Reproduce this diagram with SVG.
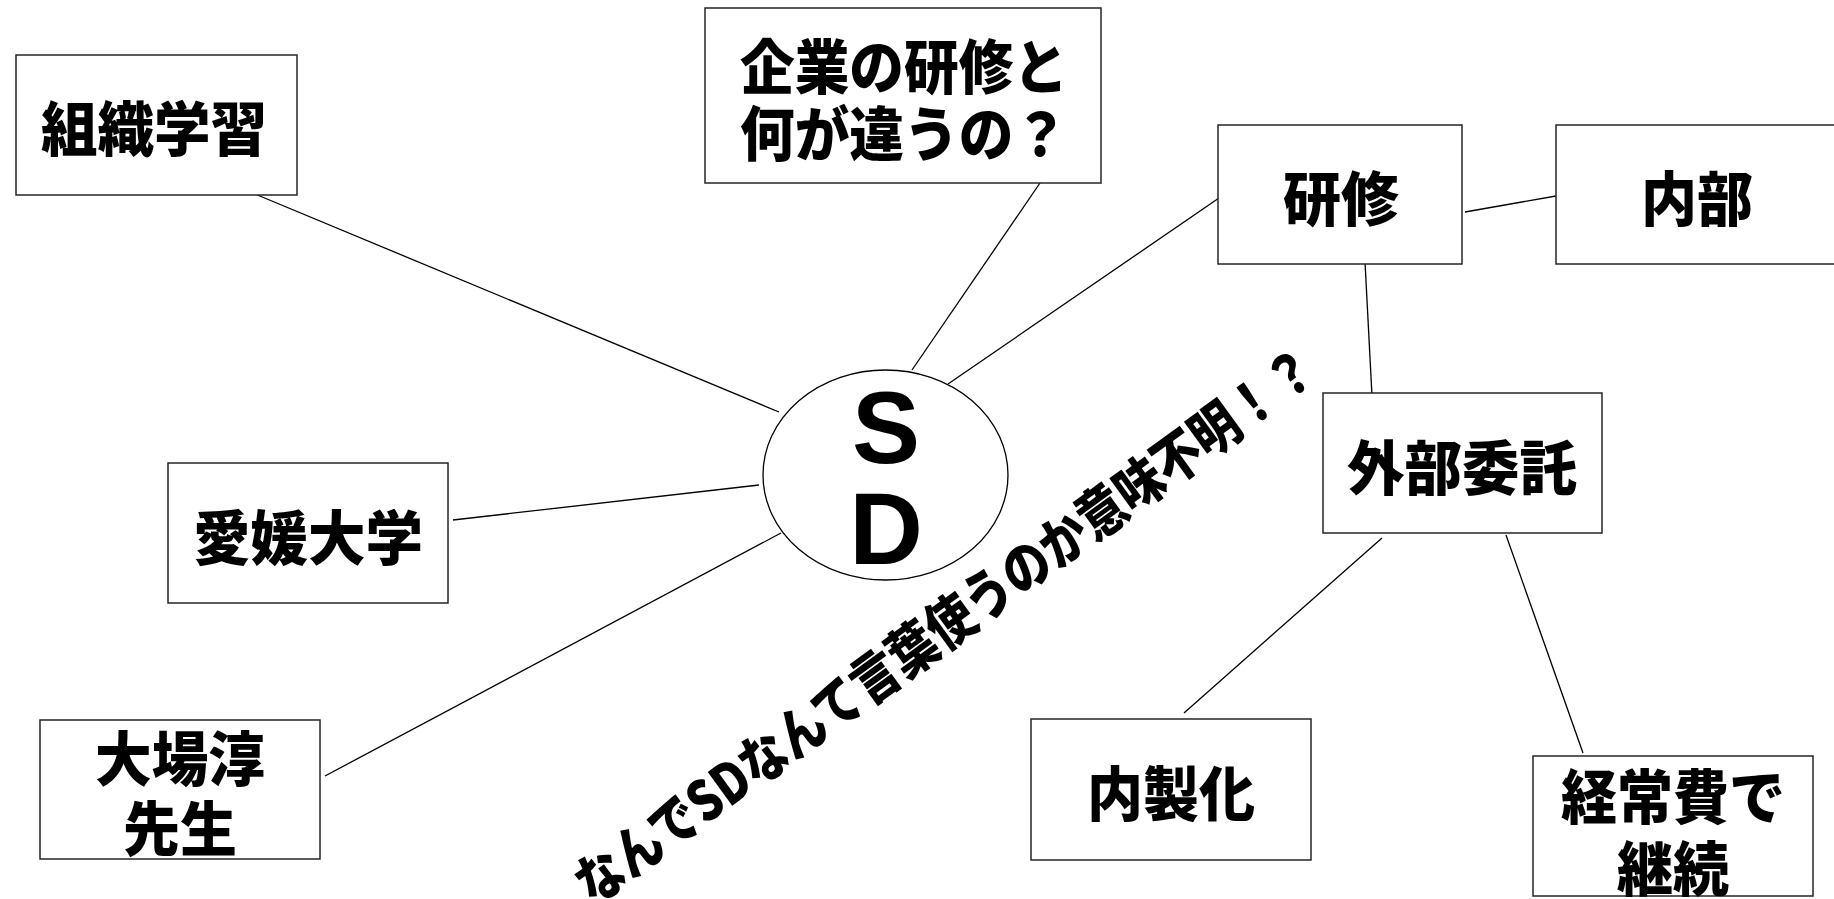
<svg xmlns="http://www.w3.org/2000/svg" width="1834" height="899" viewBox="0 0 1834 899">
<style>
.box{fill:#fff;stroke:#262626;stroke-width:1.5}
.lbl{font-family:"Noto Sans CJK JP","Noto Sans",sans-serif;font-weight:900;font-size:59px;fill:#000;text-anchor:middle}
.con line{stroke:#000;stroke-width:1.3}
.sd{font-family:"Liberation Sans",Arial,sans-serif;font-weight:bold;font-size:102px;fill:#000;text-anchor:middle}
</style>
<rect width="1834" height="899" fill="#fff"/>
<g id="connectors" class="con">
<line x1="255" y1="194" x2="779" y2="412"/>
<line x1="1040" y1="183" x2="912" y2="370"/>
<line x1="1219" y1="198" x2="948" y2="384"/>
<line x1="1465" y1="212" x2="1556" y2="196"/>
<line x1="1365" y1="262" x2="1372" y2="396"/>
<line x1="453" y1="520" x2="759" y2="485"/>
<line x1="325" y1="776" x2="781" y2="533"/>
<line x1="1382" y1="538" x2="1184" y2="713"/>
<line x1="1506" y1="535" x2="1583" y2="753"/>
</g>
<g id="sd">
<ellipse cx="885.5" cy="475" rx="122.5" ry="105" fill="#fff" stroke="#000" stroke-width="1.3"/>
<text class="sd" x="886" y="463">S</text>
<text class="sd" x="886" y="564">D</text>
</g>
<g id="soshiki">
<rect class="box" x="16" y="55" width="281" height="140"/>
<text class="lbl" x="154" y="151" textLength="226" lengthAdjust="spacingAndGlyphs">組織学習</text>
</g>
<g id="kigyo">
<rect class="box" x="705" y="8" width="396" height="175"/>
<text class="lbl" x="904" y="89" textLength="328" lengthAdjust="spacingAndGlyphs">企業の研修と</text>
<text class="lbl" x="904" y="156" textLength="328" lengthAdjust="spacingAndGlyphs">何が違うの？</text>
</g>
<g id="kenshu">
<rect class="box" x="1218" y="125" width="244" height="139"/>
<text class="lbl" x="1341" y="221" textLength="116" lengthAdjust="spacingAndGlyphs">研修</text>
</g>
<g id="naibu">
<rect class="box" x="1556" y="125" width="400" height="139"/>
<text class="lbl" x="1697" y="221" textLength="112" lengthAdjust="spacingAndGlyphs">内部</text>
</g>
<g id="gaibu">
<rect class="box" x="1323" y="393" width="279" height="140"/>
<text class="lbl" x="1462" y="490" textLength="230" lengthAdjust="spacingAndGlyphs">外部委託</text>
</g>
<g id="ehime">
<rect class="box" x="168" y="463" width="280" height="140"/>
<text class="lbl" x="308" y="560" textLength="230" lengthAdjust="spacingAndGlyphs">愛媛大学</text>
</g>
<g id="oba">
<rect class="box" x="40" y="720" width="280" height="139"/>
<text class="lbl" x="180" y="781" textLength="170" lengthAdjust="spacingAndGlyphs">大場淳</text>
<text class="lbl" x="180" y="851" textLength="114" lengthAdjust="spacingAndGlyphs">先生</text>
</g>
<g id="naisei">
<rect class="box" x="1031" y="719" width="280" height="141"/>
<text class="lbl" x="1171" y="816" textLength="168" lengthAdjust="spacingAndGlyphs">内製化</text>
</g>
<g id="keijo">
<rect class="box" x="1533" y="756" width="280" height="140"/>
<text class="lbl" x="1673" y="819" textLength="224" lengthAdjust="spacingAndGlyphs">経常費で</text>
<text class="lbl" x="1673" y="891" textLength="112" lengthAdjust="spacingAndGlyphs">継続</text>
</g>
<g id="comment" transform="translate(945,625) rotate(-36)">
<text class="lbl" x="0" y="21" style="font-size:56px" textLength="900" lengthAdjust="spacingAndGlyphs">なんでSDなんて言葉使うのか意味不明！？</text>
</g>
</svg>
